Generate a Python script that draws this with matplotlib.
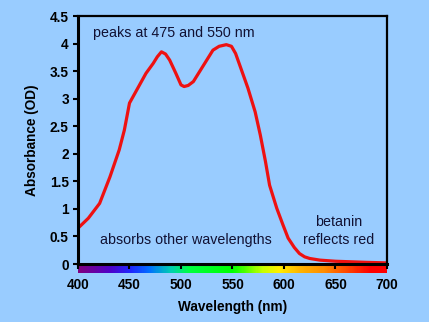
import numpy as np
import matplotlib
matplotlib.use("Agg")
import matplotlib.pyplot as plt
from matplotlib.colors import LinearSegmentedColormap

wavelength = [400, 410, 421, 431, 440, 445, 450, 458, 466, 473, 477, 481, 485, 489, 495,
              500, 503, 507, 512, 522, 531, 537, 544, 549, 553, 557, 565, 572, 577, 582,
              586, 593, 599, 604, 610, 615, 620, 625, 635, 650, 665, 680, 700]
absorbance = [0.65, 0.83, 1.10, 1.58, 2.07, 2.43, 2.92, 3.19, 3.46, 3.64, 3.76, 3.85, 3.81, 3.70, 3.46,
              3.25, 3.22, 3.24, 3.31, 3.61, 3.88, 3.95, 3.98, 3.95, 3.82, 3.61, 3.19, 2.76, 2.34, 1.86,
              1.43, 1.01, 0.71, 0.47, 0.30, 0.19, 0.13, 0.10, 0.07, 0.05, 0.04, 0.03, 0.02]

x_ticks = [400, 450, 500, 550, 600, 650, 700]
y_ticks = [0, 0.5, 1, 1.5, 2, 2.5, 3, 3.5, 4, 4.5]
y_tick_labels = ["0", "0.5", "1", "1.5", "2", "2.5", "3", "3.5", "4", "4.5"]

spectrum_stops = [(0.0, "#800080"), (0.10, "#5000C8"), (0.17, "#1E28FF"), (0.23, "#0070FF"),
                  (0.30, "#00D0B0"), (0.36, "#00FF40"), (0.50, "#00FF00"), (0.60, "#C8FF00"),
                  (0.65, "#FFF000"), (0.72, "#FFB400"), (0.80, "#FF8C00"), (0.88, "#FF4000"),
                  (0.95, "#FF0000"), (1.0, "#FF0000")]

BG = "#99CCFF"
TXT = "#111133"
plt.rcParams['font.family'] = ['Liberation Sans', 'DejaVu Sans']

fig = plt.figure(figsize=(4.29, 3.22), dpi=100, facecolor=BG)
ax = fig.add_axes([78/429, 1-264/322, (387-78)/429, (264-16)/322])
ax.set_facecolor(BG)

ax.plot(wavelength, absorbance, color="#EE1111", lw=2.3, solid_capstyle="round",
        solid_joinstyle="round", zorder=3)

cmap = LinearSegmentedColormap.from_list("spec", spectrum_stops)
grad = np.linspace(0, 1, 300).reshape(1, -1)
ax.imshow(grad, cmap=cmap, aspect="auto", extent=[400, 700, -0.16, 0], clip_on=False, zorder=1)

ax.set_xlim(400, 700)
ax.set_ylim(0, 4.5)
ax.set_xticks(x_ticks)
ax.set_xticklabels([str(v) for v in x_ticks])
ax.set_yticks(y_ticks)
ax.set_yticklabels(y_tick_labels)
ax.tick_params(axis='both', direction='out', length=3.6, width=1.5, color='black',
               labelsize=9.8, labelcolor='black')
ax.tick_params(axis='x', pad=6.5)
ax.tick_params(axis='y', pad=3)
for lab in ax.get_xticklabels() + ax.get_yticklabels():
    lab.set_fontweight('bold')

for side in ['left', 'bottom']:
    ax.spines[side].set_linewidth(2.2)
for side in ['top', 'right']:
    ax.spines[side].set_linewidth(1.6)
for s in ax.spines.values():
    s.set_zorder(5)

ax.set_xlabel("Wavelength (nm)", fontsize=9.8, fontweight='bold', labelpad=6)
ax.set_ylabel("Absorbance (OD)", fontsize=9.8, fontweight='bold', labelpad=8)

def px_x(p):
    return 400 + (p - 78) / 309 * 300

def px_y(p):
    return (264 - p) / 55.1

ax.text(px_x(93), px_y(33), "peaks at 475 and 550 nm", fontsize=10.3, color=TXT,
        ha='left', va='center')
ax.text(px_x(100), px_y(240), "absorbs other wavelengths", fontsize=10.3,
        color=TXT, ha='left', va='center')
ax.text(px_x(339), px_y(222), "betanin", fontsize=10.3, color=TXT,
        ha='center', va='center')
ax.text(px_x(339), px_y(240), "reflects red", fontsize=10.3, color=TXT,
        ha='center', va='center')

fig.savefig("out.png", dpi=100, facecolor=BG)
